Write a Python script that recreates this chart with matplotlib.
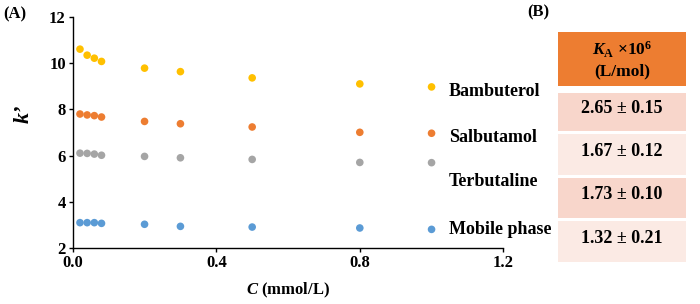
import matplotlib
matplotlib.use("Agg")
from matplotlib import pyplot as plt
from matplotlib.patches import Rectangle

plt.rcParams['font.family'] = ['Liberation Serif', 'DejaVu Serif']
plt.rcParams['font.weight'] = 'bold'
plt.rcParams['mathtext.fontset'] = 'custom'
plt.rcParams['mathtext.rm'] = 'Liberation Serif:bold'
plt.rcParams['mathtext.it'] = 'Liberation Serif:italic:bold'
plt.rcParams['mathtext.bf'] = 'Liberation Serif:bold'

# concentration (mmol/L)
conc = [0.02, 0.04, 0.06, 0.08, 0.2, 0.3, 0.5, 0.8, 1.0]

bambuterol = [10.60, 10.34, 10.21, 10.07, 9.78, 9.63, 9.36, 9.10, 8.97]
salbutamol = [7.80, 7.76, 7.73, 7.67, 7.48, 7.38, 7.24, 7.01, 6.97]
terbutaline = [6.11, 6.10, 6.07, 6.02, 5.97, 5.91, 5.84, 5.71, 5.70]
mobile = [3.11, 3.11, 3.11, 3.08, 3.04, 2.95, 2.92, 2.88, 2.82]

names = ["Bambuterol", "Salbutamol", "Terbutaline", "Mobile phase"]
colors = ["#FFC000", "#ED7D31", "#A5A5A5", "#5B9BD5"]

# table (B)
ka_values = ["2.65 \u00b1 0.15", "1.67 \u00b1 0.12", "1.73 \u00b1 0.10", "1.32 \u00b1 0.21"]

fig = plt.figure(figsize=(7, 3.04), dpi=100)
ax = fig.add_axes([0.104, 0.183, 0.615, 0.762])

for ys, c in zip([bambuterol, salbutamol, terbutaline, mobile], colors):
    ax.scatter(conc, ys, s=30, color=c, edgecolors='none', zorder=3)

ax.set_xlim(0, 1.2)
ax.set_ylim(2, 12)
ax.set_xticks([0.0, 0.4, 0.8, 1.2])
ax.set_xticklabels(["0.0", "0.4", "0.8", "1.2"])
ax.set_yticks([2, 4, 6, 8, 10, 12])
for s in ['top', 'right']:
    ax.spines[s].set_visible(False)
for s in ['left', 'bottom']:
    ax.spines[s].set_linewidth(1.0)
ax.tick_params(direction='out', length=3, width=1, labelsize=12, pad=2)
for lab in ax.get_xticklabels() + ax.get_yticklabels():
    lab.set_fontweight('bold')

ax.set_xlabel(r"$\mathit{C}$ (mmol/L)", fontsize=12, fontweight='bold')
ax.xaxis.set_label_coords(0.5, -0.14)
ax.set_ylabel("k\u2019", fontsize=16, fontstyle='italic', fontweight='bold')
ax.yaxis.set_label_coords(-0.09, 0.58)

# series labels next to last points
label_y = [92, 137, 182, 230]
ov = fig.add_axes([0, 0, 1, 1], facecolor='none')
ov.set_xlim(0, 700)
ov.set_ylim(304, 0)
ov.axis('off')
for name, y in zip(names, label_y):
    ov.text(449, y, name, fontsize=13, fontweight='bold', va='center', ha='left')

ov.text(3, 14, "(A)", fontsize=12, fontweight='bold', va='center', ha='left')
ov.text(538, 12, "(B)", fontsize=12, fontweight='bold', va='center', ha='center')

# table cells
ov.add_patch(Rectangle((558, 32), 128, 54, color="#ED7D31", lw=0))
ov.text(622, 50, r"$K_\mathrm{A}$ " + "\u00d710$^6$",
        fontsize=12.5, fontweight='bold', ha='center', va='center')
ov.text(622, 71, "(L/mol)", fontsize=12.5, fontweight='bold', ha='center', va='center')

row_tops = [93, 134, 178, 221]
row_h = [38, 41, 40, 41]
row_cols = ["#F8D6CB", "#FBEAE4", "#F8D6CB", "#FBEAE4"]
for top, h, c, v in zip(row_tops, row_h, row_cols, ka_values):
    ov.add_patch(Rectangle((558, top), 128, h, color=c, lw=0))
    ov.text(622, top + h * 0.42, v, fontsize=13, fontweight='bold', ha='center', va='center')

fig.savefig("out.png", dpi=100)
